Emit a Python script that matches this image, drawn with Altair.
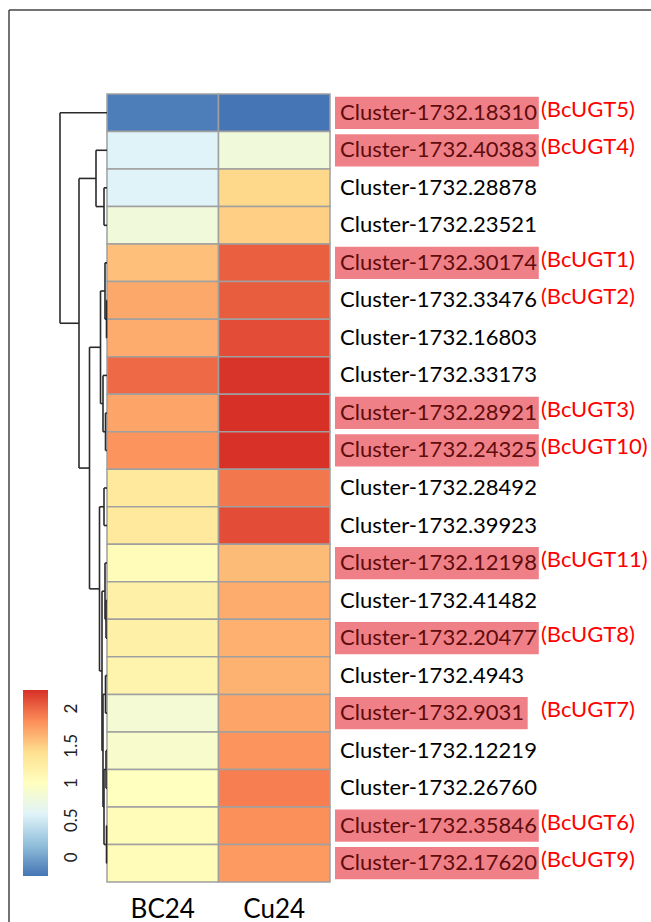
import altair as alt
import pandas as pd

# ---------------- data ----------------
ROW_IDS = [
    "Cluster-1732.18310", "Cluster-1732.40383", "Cluster-1732.28878", "Cluster-1732.23521",
    "Cluster-1732.30174", "Cluster-1732.33476", "Cluster-1732.16803", "Cluster-1732.33173",
    "Cluster-1732.28921", "Cluster-1732.24325", "Cluster-1732.28492", "Cluster-1732.39923",
    "Cluster-1732.12198", "Cluster-1732.41482", "Cluster-1732.20477", "Cluster-1732.4943",
    "Cluster-1732.9031", "Cluster-1732.12219", "Cluster-1732.26760", "Cluster-1732.35846",
    "Cluster-1732.17620",
]
BC24_VALUES = [-0.20, 0.58, 0.58, 0.80, 1.58, 1.70, 1.68, 1.99, 1.72, 1.80, 1.30,
               1.30, 1.05, 1.20, 1.20, 1.15, 0.85, 0.90, 1.00, 1.05, 1.05]
CU24_VALUES = [-0.25, 0.80, 1.45, 1.50, 2.04, 2.05, 2.12, 2.23, 2.25, 2.24, 1.93,
               2.12, 1.60, 1.68, 1.66, 1.65, 1.72, 1.80, 1.90, 1.82, 1.77]
GENE_TAGS = ["(BcUGT5)", "(BcUGT4)", "", "", "(BcUGT1)", "(BcUGT2)", "", "",
             "(BcUGT3)", "(BcUGT10)", "", "", "(BcUGT11)", "", "(BcUGT8)", "",
             "(BcUGT7)", "", "", "(BcUGT6)", "(BcUGT9)"]
HIGHLIGHTED = [True, True, False, False, True, False, False, False, True, True, False,
               False, True, False, True, False, True, False, False, True, True]
SAMPLES = ["BC24", "Cu24"]

# hierarchical clustering merges: (left, right, height); leaves 0..20, new nodes 21..
DENDRO_MERGES = [
    (5, 6, 0.05), (4, 21, 0.20), (8, 9, 0.15), (7, 23, 0.40), (22, 24, 0.65),
    (10, 11, 0.30), (13, 14, 0.10), (12, 27, 0.20), (15, 16, 0.15), (17, 18, 0.10),
    (19, 20, 0.05), (30, 31, 0.30), (29, 32, 0.40), (28, 33, 0.50), (26, 34, 0.75),
    (25, 35, 1.75), (2, 3, 0.30), (1, 37, 1.10), (38, 36, 2.80), (0, 39, 4.70),
]

COLOR_DOMAIN = [-0.25, 2.25]
LEGEND_TICKS = [0, 0.5, 1, 1.5, 2]
LEGEND_LABELS = ["0", "0.5", "1", "1.5", "2"]
PALETTE = ["#4575B4", "#91BFDB", "#E0F3F8", "#FFFFBF", "#FEE090", "#FC8D59", "#D73027"]

# ---------------- tables ----------------
n = len(ROW_IDS)
cell_rows = []
for i, rid in enumerate(ROW_IDS):
    for s, vals in zip(SAMPLES, [BC24_VALUES, CU24_VALUES]):
        cell_rows.append({"row": rid, "sample": s, "value": vals[i], "r0": i, "r1": i + 1})
cells = pd.DataFrame(cell_rows)

rows = pd.DataFrame({
    "label": ROW_IDS,
    "tag": GENE_TAGS,
    "hl": HIGHLIGHTED,
    "yc": [i + 0.5 for i in range(n)],
    "ya": [i + 0.07 for i in range(n)],
    "yb": [i + 0.93 for i in range(n)],
})

# dendrogram segments from the merge list
pos = {i: (0.0, i + 0.5) for i in range(n)}
segs = []
for k, (a, b, h) in enumerate(DENDRO_MERGES):
    ha, ya = pos[a]
    hb, yb = pos[b]
    segs.append({"x0": h, "x1": h, "y0": ya, "y1": yb})
    segs.append({"x0": ha, "x1": h, "y0": ya, "y1": ya})
    segs.append({"x0": hb, "x1": h, "y0": yb, "y1": yb})
    pos[n + k] = (h, (ya + yb) / 2)
segs = pd.DataFrame(segs)
root_h = DENDRO_MERGES[-1][2]

legend_df = pd.DataFrame({"lo": [COLOR_DOMAIN[0]], "hi": [COLOR_DOMAIN[1]]})
legend_ticks = pd.DataFrame({"t": LEGEND_TICKS, "lab": LEGEND_LABELS})
one = pd.DataFrame({"a": [0]})

# ---------------- scales ----------------
FONT = "Lato"
row_scale = alt.Scale(domain=[0, n], reverse=True, nice=False, zero=False)
lo, hi = COLOR_DOMAIN
color_stops = [lo + k * (hi - lo) / (len(PALETTE) - 1) for k in range(len(PALETTE))]
color_scale = alt.Scale(domain=color_stops, range=PALETTE, interpolate="rgb")
leg_scale = alt.Scale(domain=COLOR_DOMAIN, range=[782, 596], nice=False, zero=False)

# ---------------- layers ----------------
heat = alt.Chart(cells).mark_rect(stroke="#a0a0a0", strokeWidth=1.5).encode(
    x=alt.X("sample:N",
            scale=alt.Scale(domain=SAMPLES, range=[98, 321], paddingInner=0, paddingOuter=0),
            axis=alt.Axis(title=None, orient="bottom", domain=False, ticks=False, labelAngle=0,
                          labelFont=FONT, labelFontSize=26, labelColor="black", labelPadding=14)),
    y=alt.Y("r0:Q", scale=row_scale, axis=None),
    y2="r1:Q",
    fill=alt.Fill("value:Q", scale=color_scale, legend=None),
)

dendro = alt.Chart(segs).mark_rule(color="#2a2a2a", strokeWidth=1.6).encode(
    x=alt.X("x0:Q", scale=alt.Scale(domain=[0, root_h], range=[98, 51], nice=False, zero=False), axis=None),
    x2="x1:Q",
    y=alt.Y("y0:Q", scale=row_scale, axis=None),
    y2="y1:Q",
)

hl_rect = alt.Chart(rows).transform_filter("datum.hl").transform_calculate(
    hx1="326", hx2="330 + 11.1 * length(datum.label)"
).mark_rect(color="#F08088").encode(
    x=alt.X("hx1:Q", scale=None),
    x2="hx2:Q",
    y=alt.Y("ya:Q", scale=row_scale, axis=None),
    y2="yb:Q",
)

labels = alt.Chart(rows).mark_text(align="left", baseline="middle", font=FONT, fontSize=22).encode(
    x=alt.value(331),
    y=alt.Y("yc:Q", scale=row_scale, axis=None),
    text="label:N",
    color=alt.condition("datum.hl", alt.value("#5e0c0c"), alt.value("black")),
)

tags = alt.Chart(rows).transform_filter("datum.tag != ''").mark_text(
    align="left", baseline="middle", font=FONT, fontSize=22, color="#ff0000", dy=-3
).encode(
    x=alt.value(532),
    y=alt.Y("yc:Q", scale=row_scale, axis=None),
    text="tag:N",
)

gradient = alt.Gradient(
    gradient="linear",
    stops=[alt.GradientStop(color=c, offset=k / (len(PALETTE) - 1)) for k, c in enumerate(PALETTE)],
    x1=0, x2=0, y1=1, y2=0,
)
leg_bar = alt.Chart(legend_df).mark_rect(fill=gradient).encode(
    x=alt.value(14), x2=alt.value(39),
    y=alt.Y("lo:Q", scale=leg_scale, axis=None),
    y2="hi:Q",
)
leg_txt = alt.Chart(legend_ticks).mark_text(
    angle=270, align="center", baseline="middle", font=FONT, fontSize=17, color="#222222"
).encode(
    x=alt.value(63),
    y=alt.Y("t:Q", scale=leg_scale, axis=None),
    text="lab:N",
)

frame_top = alt.Chart(one).mark_rule(color="#444444", strokeWidth=1.5).encode(
    x=alt.value(0), x2=alt.value(642), y=alt.value(-84))
frame_left = alt.Chart(one).mark_rule(color="#444444", strokeWidth=1.5).encode(
    x=alt.value(0), y=alt.value(-84), y2=alt.value(828))

chart = alt.layer(
    heat, dendro, hl_rect, labels, tags, leg_bar, leg_txt, frame_top, frame_left
).resolve_scale(
    x="independent", y="independent"
).properties(
    width=642, height=788,
    padding={"left": 9, "top": 94, "right": 0, "bottom": 40},
    autosize=alt.AutoSizeParams(type="none"),
    background="white",
).configure_view(stroke=None)

chart.save("out.html", embed_options={"renderer": "svg", "actions": False})
